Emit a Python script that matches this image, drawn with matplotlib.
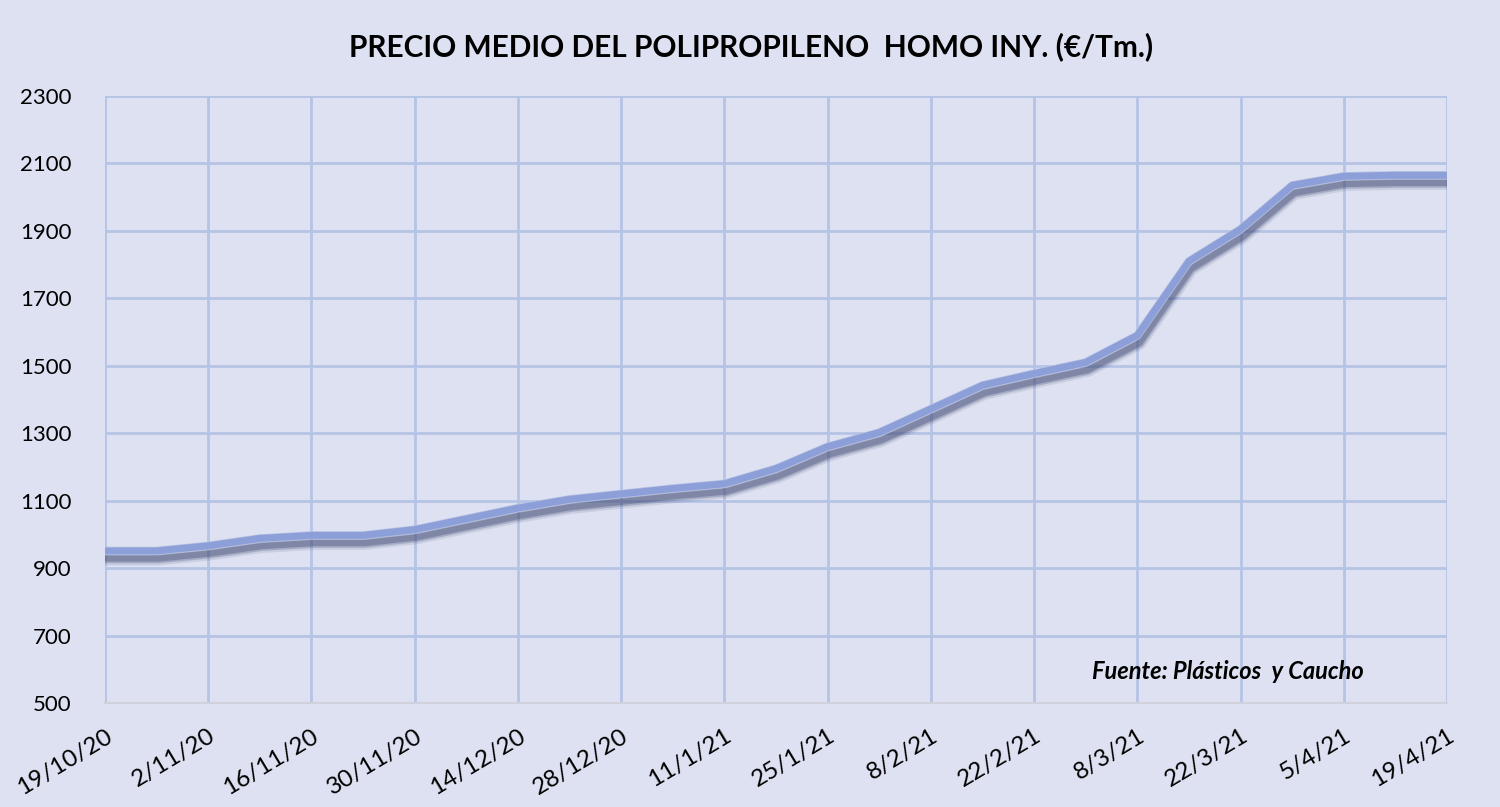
import matplotlib
matplotlib.use("Agg")
import matplotlib.pyplot as plt
import matplotlib.patheffects as pe
import numpy as np

# ---- data ----
weeks = list(range(27))
prices = [951, 951, 966, 988, 997, 997, 1014, 1046, 1078, 1104, 1120, 1136, 1150,
          1195, 1260, 1302, 1372, 1442, 1477, 1510, 1590, 1810, 1905, 2035, 2062,
          2065, 2065]
tick_positions = list(range(0, 27, 2))
tick_labels = ["19/10/20", "2/11/20", "16/11/20", "30/11/20", "14/12/20", "28/12/20",
               "11/1/21", "25/1/21", "8/2/21", "22/2/21", "8/3/21", "22/3/21",
               "5/4/21", "19/4/21"]
y_ticks = list(range(500, 2301, 200))
title = "PRECIO MEDIO DEL POLIPROPILENO  HOMO INY. (€/Tm.)"
source = "Fuente: Plásticos  y Caucho"

bg = "#dde1f1"
grid_c = "#b5c3e5"
line_c = "#8d9fd9"

plt.rcParams['font.family'] = ['Lato', 'DejaVu Sans']

fig = plt.figure(figsize=(15, 8.07), dpi=100, facecolor=bg)
ax = fig.add_axes([0.07, 0.1289, 0.8947, 0.7521], facecolor=bg)

ax.set_xlim(0, 26)
ax.set_ylim(500, 2300)
ax.set_xticks(tick_positions)
ax.set_xticklabels(tick_labels, rotation=31, ha="right", va="top",
                   rotation_mode="anchor", fontsize=17.5)
ax.set_yticks(y_ticks)
ax.set_yticklabels([str(v) for v in y_ticks], fontsize=16)
ax.tick_params(axis="both", length=0, colors="black")
ax.tick_params(axis="y", pad=24)
ax.tick_params(axis="x", pad=16)
for lab in ax.get_xticklabels():
    lab.set_x(lab.get_position()[0])

ax.grid(True, color=grid_c, linewidth=2)
ax.set_axisbelow(True)
for s in ["top", "right", "left"]:
    ax.spines[s].set_visible(False)
ax.spines["bottom"].set_color("#cfd2dc")
ax.spines["bottom"].set_linewidth(1.5)

shadow_effects = [
    pe.SimpleLineShadow(offset=(1.5, -5.5), shadow_color="#3c4670", alpha=0.12, linewidth=10),
    pe.SimpleLineShadow(offset=(1.5, -5.5), shadow_color="#3c4670", alpha=0.25, linewidth=7),
    pe.SimpleLineShadow(offset=(1.5, -5.5), shadow_color="#3c4670", alpha=0.35, linewidth=4.5),
    pe.Stroke(linewidth=6, foreground="#b8c2e2"),
    pe.Normal(),
]
ax.plot(weeks, prices, color=line_c, linewidth=5, solid_capstyle="round",
        solid_joinstyle="round", path_effects=shadow_effects, zorder=3)

fig.text(0.501, 0.942, title, ha="center", va="center", fontsize=21.5,
         fontweight="bold", color="black")
ax.text(0.837, 0.052, source, transform=ax.transAxes, ha="center", va="center",
        fontsize=17, fontweight="bold", fontstyle="italic", color="black")

fig.savefig("out.png", dpi=100, facecolor=bg)
